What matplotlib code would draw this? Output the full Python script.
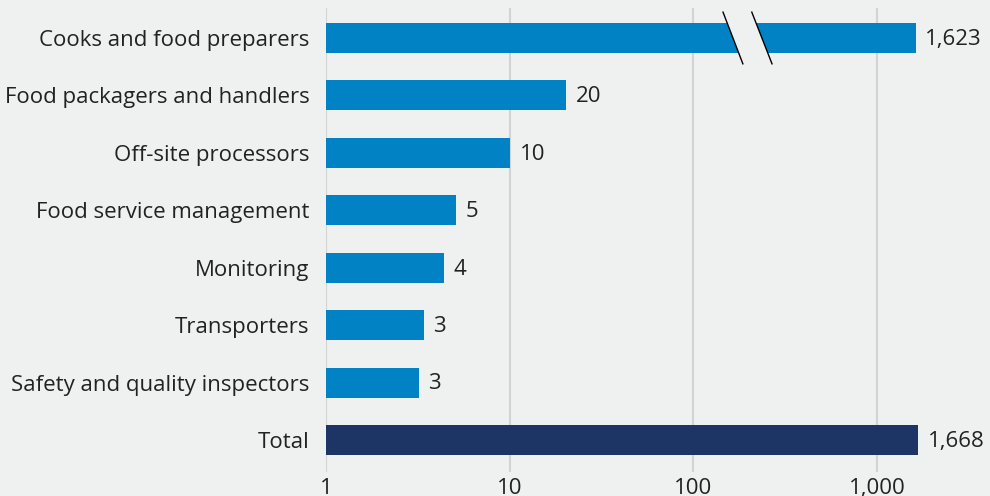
import matplotlib.pyplot as plt
from matplotlib.ticker import FixedLocator, FixedFormatter

categories = ["Cooks and food preparers", "Food packagers and handlers",
              "Off-site processors", "Food service management", "Monitoring",
              "Transporters", "Safety and quality inspectors", "Total"]
values = [1623, 20.3, 10.1, 5.1, 4.4, 3.4, 3.2, 1668]
value_labels = ["1,623", "20", "10", "5", "4", "3", "3", "1,668"]
tick_values = [1, 10, 100, 1000]
tick_labels = ["1", "10", "100", "1,000"]

bg = "#eff1f0"
blue = "#0082c5"
navy = "#1c3564"

plt.rcParams["font.family"] = ["Open Sans", "DejaVu Sans"]

fig = plt.figure(figsize=(9.9, 4.96), dpi=100, facecolor=bg)
ax = fig.add_axes([326 / 990, 24 / 496, 664 / 990, 464 / 496])
ax.set_facecolor(bg)
ax.set_xscale("log")

colors = [navy if c == "Total" else blue for c in categories]
ypos = list(range(len(categories)))
ax.barh(ypos, values, height=0.52, color=colors, zorder=3)

for y, v, lab in zip(ypos, values, value_labels):
    ax.annotate(lab, (v, y), xytext=(7, -1), textcoords="offset points",
                va="center", ha="left", fontsize=16, color="#222222")

# break marks on the first bar
b1 = (145, 186)
b2 = (208, 268)
ax.fill([b1[0], b2[0], b2[1], b1[1]], [-0.45, -0.45, 0.45, 0.45],
        color=bg, zorder=4, lw=0)
for bx in (b1, b2):
    ax.plot(bx, [-0.45, 0.45], color="black", lw=1, zorder=5, clip_on=False)

ax.set_xlim(1, 4120)
ax.set_ylim(7.557, -0.522)
ax.set_yticks(ypos)
ax.set_yticklabels(categories, fontsize=16, color="#222222")
ax.xaxis.set_major_locator(FixedLocator(tick_values))
ax.xaxis.set_major_formatter(FixedFormatter(tick_labels))
ax.xaxis.set_minor_locator(FixedLocator([]))
ax.tick_params(axis="x", length=0, pad=4, labelsize=16, labelcolor="#222222")
ax.tick_params(axis="y", length=0, pad=12)
for s in ax.spines.values():
    s.set_visible(False)
ax.grid(axis="x", color="#d2d4d3", lw=1.5, zorder=0)

fig.savefig("out.png", dpi=100, facecolor=bg)
